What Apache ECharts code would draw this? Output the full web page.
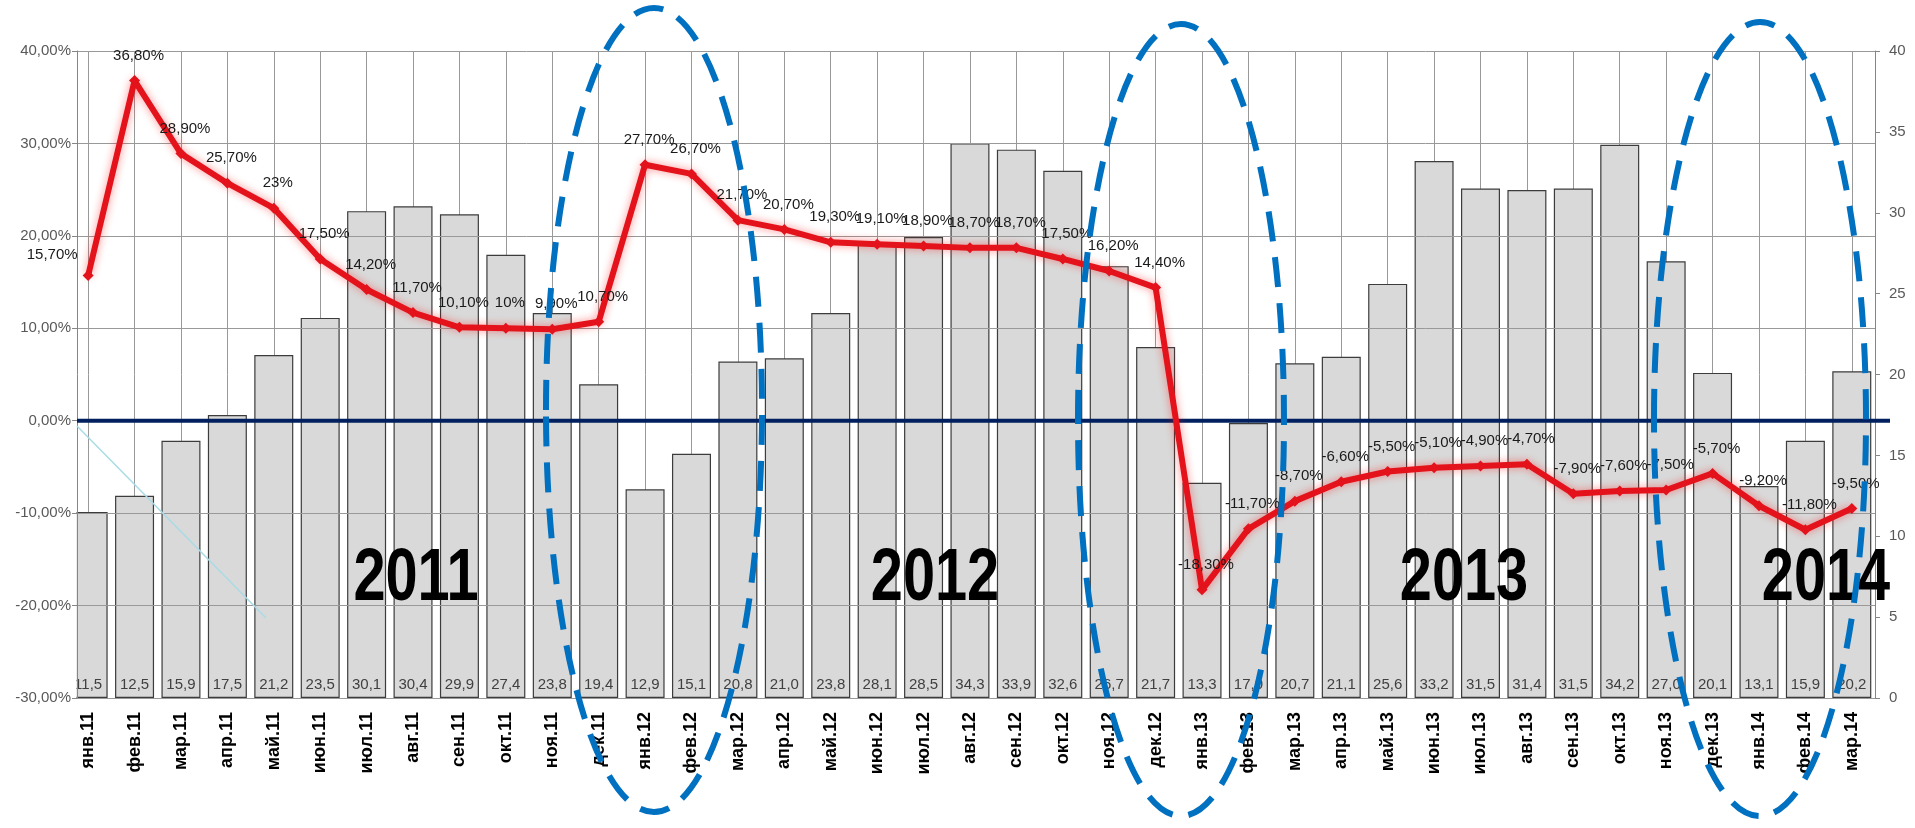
<!DOCTYPE html>
<html>
<head>
<meta charset="utf-8">
<script src="https://cdn.jsdelivr.net/npm/echarts@6/dist/echarts.min.js"></script>
<style>
html,body{margin:0;padding:0;background:#fff;}
#c{width:1915px;height:828px;}
</style>
</head>
<body>
<div id="c"></div>
<script>
// ---- data ----
const categories = ['янв.11','фев.11','мар.11','апр.11','май.11','июн.11','июл.11','авг.11','сен.11','окт.11','ноя.11','дек.11',
  'янв.12','фев.12','мар.12','апр.12','май.12','июн.12','июл.12','авг.12','сен.12','окт.12','ноя.12','дек.12',
  'янв.13','фев.13','мар.13','апр.13','май.13','июн.13','июл.13','авг.13','сен.13','окт.13','ноя.13','дек.13',
  'янв.14','фев.14','мар.14'];
const volume = [11.5,12.5,15.9,17.5,21.2,23.5,30.1,30.4,29.9,27.4,23.8,19.4,
  12.9,15.1,20.8,21.0,23.8,28.1,28.5,34.3,33.9,32.6,26.7,21.7,
  13.3,17.0,20.7,21.1,25.6,33.2,31.5,31.4,31.5,34.2,27.0,20.1,
  13.1,15.9,20.2];
const growth = [15.7,36.8,28.9,25.7,23,17.5,14.2,11.7,10.1,10,9.9,10.7,
  27.7,26.7,21.7,20.7,19.3,19.1,18.9,18.7,18.7,17.5,16.2,14.4,
  -18.3,-11.7,-8.7,-6.6,-5.5,-5.1,-4.9,-4.7,-7.9,-7.6,-7.5,-5.7,
  -9.2,-11.8,-9.5];
const leftAxisTicks = [-30,-20,-10,0,10,20,30,40];
const rightAxisTicks = [0,5,10,15,20,25,30,35,40];
const yearLabels = ['2011','2012','2013','2014'];

// ---- helpers ----
const FONT = '"Liberation Sans", Arial, sans-serif';
const fmtPct = v => (Number.isInteger(v) ? String(v) : v.toFixed(2).replace('.', ',')) + '%';
const fmtVol = v => v.toFixed(1).replace('.', ',');
const fmtAxisPct = v => v.toFixed(2).replace('.', ',') + '%';

const chart = echarts.init(document.getElementById('c'));

const catIndex = categories.map((c, i) => i);
const barData = volume.map((v, i) => [i, v]);
const lineData = growth.map((v, i) => i === 0 ? {value: [i, v], label: {offset: [-36, 4]}} : {value: [i, v]});

const GRID = {left: 77, right: 40, top: 51, bottom: 130};
const yearPos = [[416, 580], [935, 580], [1464, 580], [1826, 580]];
const ellipses = [
  {cx: 654, cy: 410, rx: 108, ry: 402},
  {cx: 1181, cy: 420, rx: 103, ry: 396},
  {cx: 1760, cy: 419, rx: 106, ry: 397}
];

const graphics = [];
// mask so the first (half) bar is cut at the left axis, as in the source
graphics.push({
  type: 'rect', z: 3, silent: true,
  shape: {x: 0, y: GRID.top - 2, width: GRID.left - 0.5, height: 828 - GRID.top - GRID.bottom + 4},
  style: {fill: '#ffffff'}
});
yearLabels.forEach((t, i) => {
  graphics.push({
    type: 'text', z: 50,
    x: yearPos[i][0], y: yearPos[i][1], scaleX: 0.78,
    style: {
      text: t, x: 0, y: 0,
      textAlign: 'center', textVerticalAlign: 'middle',
      font: 'bold 74px "Liberation Sans", Arial',
      fill: '#000'
    }
  });
});
ellipses.forEach(e => {
  graphics.push({
    type: 'ellipse', z: 100,
    shape: {cx: e.cx, cy: e.cy, rx: e.rx, ry: e.ry},
    style: {fill: 'none', stroke: '#0070c0', lineWidth: 6, lineDash: [30, 16]}
  });
});
graphics.push({
  type: 'line', z: 40,
  shape: {x1: 77, y1: 426, x2: 266, y2: 618},
  style: {stroke: '#a9dce6', lineWidth: 1.5}
});

const option = {
  animation: false,
  backgroundColor: '#ffffff',
  grid: GRID,
  xAxis: {
    type: 'value', min: -0.24, max: categories.length - 0.5,
    axisLine: {show: true, onZero: false, lineStyle: {color: '#868686', width: 1}},
    axisTick: {show: false, customValues: catIndex},
    splitLine: {show: true, lineStyle: {color: '#999999', width: 1}},
    axisLabel: {
      customValues: catIndex,
      rotate: 90, margin: 14, fontSize: 18, fontWeight: 'bold', color: '#000', fontFamily: FONT,
      formatter: v => categories[Math.round(v)] || ''
    }
  },
  yAxis: [
    {
      type: 'value', position: 'left', z: 10,
      min: leftAxisTicks[0], max: leftAxisTicks[leftAxisTicks.length - 1], interval: 10,
      axisLine: {show: true, onZero: false, lineStyle: {color: '#868686'}},
      axisTick: {show: true, length: 5, lineStyle: {color: '#868686'}},
      axisLabel: {formatter: fmtAxisPct, color: '#595959', fontSize: 15, fontFamily: FONT, margin: 6},
      splitLine: {show: true, lineStyle: {color: '#999999', width: 1}}
    },
    {
      type: 'value', position: 'right', z: 10,
      min: rightAxisTicks[0], max: rightAxisTicks[rightAxisTicks.length - 1], interval: 5,
      axisLine: {show: true, onZero: false, lineStyle: {color: '#868686'}},
      axisTick: {show: true, length: 5, lineStyle: {color: '#868686'}},
      axisLabel: {color: '#595959', fontSize: 15, fontFamily: FONT, margin: 14},
      splitLine: {show: false}
    }
  ],
  series: [
    {
      type: 'bar', name: 'volume', xAxisIndex: 0, yAxisIndex: 1, z: 2,
      data: barData, barWidth: 39,
      itemStyle: {color: '#d9d9d9', borderColor: '#3c3c3c', borderWidth: 1.2},
      label: {
        show: true, position: 'insideBottom', distance: 6,
        formatter: p => fmtVol(p.value[1]),
        fontSize: 15, color: '#404040', fontFamily: FONT
      }
    },
    {
      type: 'line', name: 'growth', xAxisIndex: 0, yAxisIndex: 0, z: 30,
      data: lineData,
      symbol: 'diamond', symbolSize: 11,
      lineStyle: {color: '#e3121b', width: 6, shadowBlur: 8, shadowColor: 'rgba(255,0,0,0.45)'},
      itemStyle: {color: '#e3121b'},
      label: {
        show: true, position: 'top', distance: 12, offset: [4, 0],
        formatter: p => fmtPct(p.value[1]),
        fontSize: 15, color: '#1a1a1a', fontFamily: FONT
      }
    }
  ],
  graphic: graphics
};
chart.setOption(option);

// thick navy line at 0 % of the left (percentage) axis, placed by the axis scale
const y0 = chart.convertToPixel({yAxisIndex: 0}, 0);
chart.setOption({
  graphic: graphics.concat([{
    type: 'line', z: 20, silent: true,
    shape: {x1: 77, y1: y0, x2: 1890, y2: y0},
    style: {stroke: '#002060', lineWidth: 4}
  }])
});
</script>
</body>
</html>
